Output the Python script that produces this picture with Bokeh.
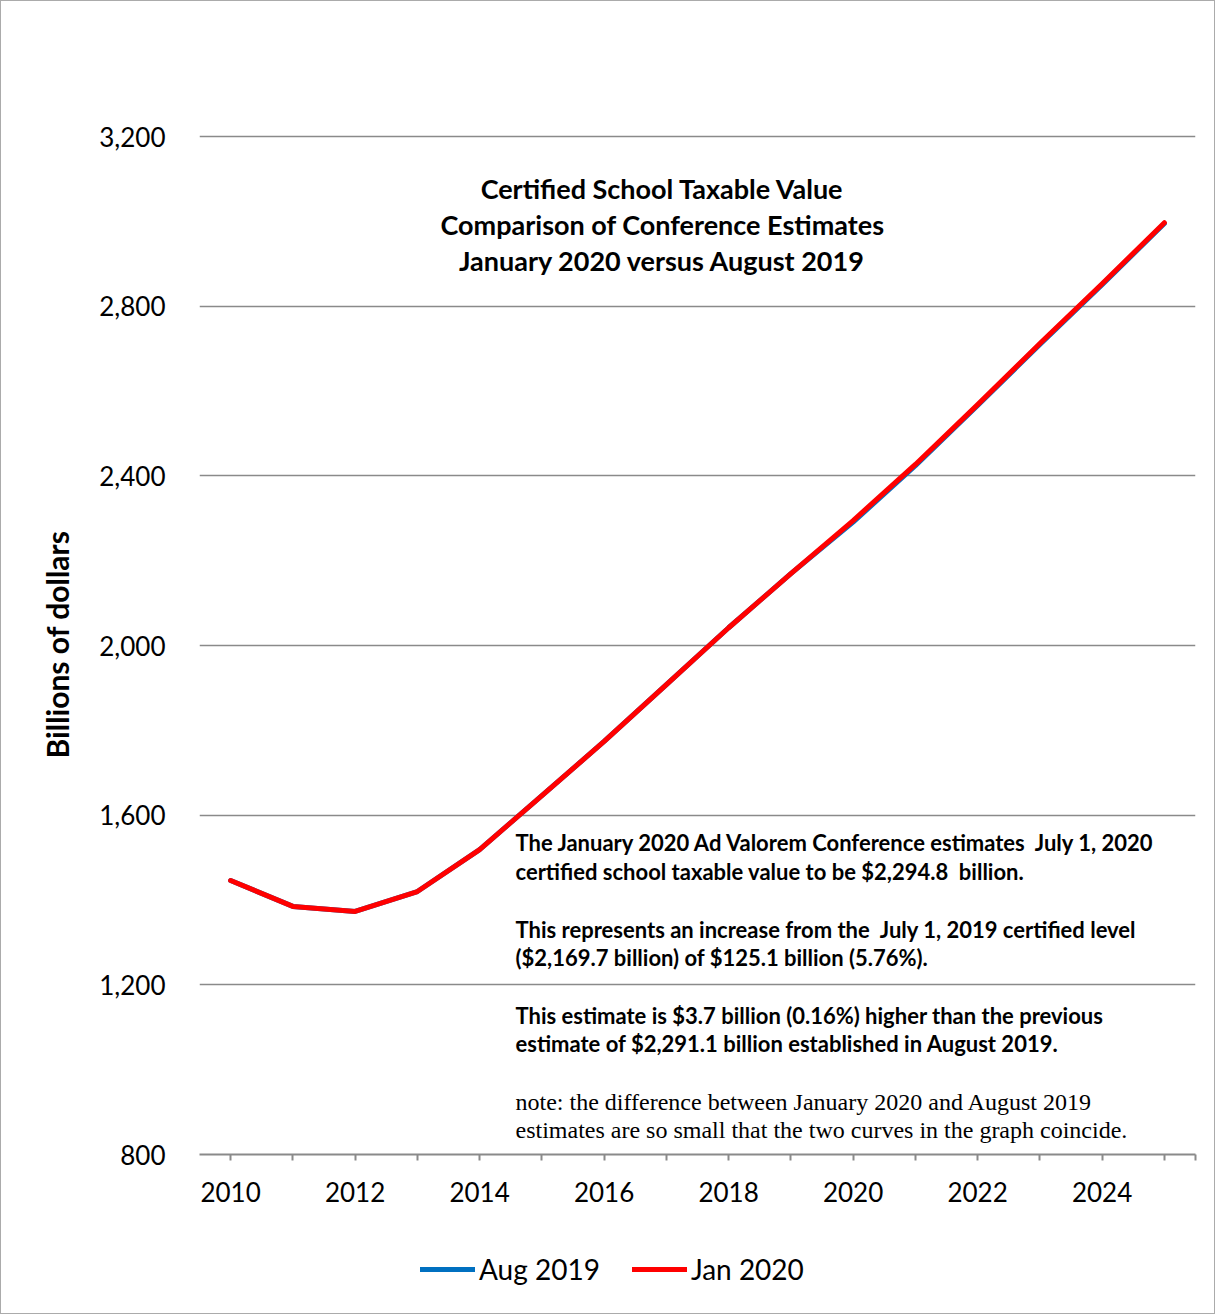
from bokeh.plotting import figure
from bokeh.layouts import column
from bokeh.models import (FixedTicker, NumeralTickFormatter, Label, Legend, LegendItem, Range1d)
from bokeh.embed import file_html
from bokeh.resources import INLINE

# ---- data ----
years = list(range(2010, 2026))
aug_2019 = [1446, 1385, 1373, 1420, 1519, 1646, 1774, 1908, 2042, 2169.7,
            2291.1, 2424, 2566, 2710, 2851, 2995]
jan_2020 = [1446, 1385, 1373, 1420, 1519, 1646, 1774, 1908, 2042, 2169.7,
            2294.8, 2427, 2568, 2712, 2853, 2997]
y_ticks = [800, 1200, 1600, 2000, 2400, 2800, 3200]
x_label_years = [2010, 2012, 2014, 2016, 2018, 2020, 2022, 2024]

title_lines = ["Certified School Taxable Value",
               "Comparison of Conference Estimates",
               "January 2020 versus August 2019"]
note_bold = ["The January 2020 Ad Valorem Conference estimates\u00a0 July 1, 2020",
             "certified school taxable value to be $2,294.8\u00a0 billion.",
             "This represents an increase from the\u00a0 July 1, 2019 certified level",
             "($2,169.7 billion) of $125.1 billion (5.76%).",
             "This estimate is $3.7 billion (0.16%) higher than the previous",
             "estimate of $2,291.1 billion established in August 2019."]
note_plain = ["note: the difference between January 2020 and August 2019",
              "estimates are so small that the two curves in the graph coincide."]

FONT = "Lato"
W = 1213
H_MAIN, H_LEG = 1230, 82
FL, FR, FB = 198, 1194, 1153   # frame edges in canvas px
X0, X1 = 2009.5, 2025.5
Y0, Y1 = 800, 3205
PX_PER_UNIT = 1018 / 2400
FT = FB - round((Y1 - Y0) * PX_PER_UNIT)

p = figure(width=W, height=H_MAIN, output_backend="svg", toolbar_location=None,
           x_range=Range1d(X0, X1), y_range=Range1d(Y0, Y1),
           min_border_left=FL, min_border_right=W - FR,
           min_border_top=FT, min_border_bottom=H_MAIN - FB)
p.outline_line_color = None
p.background_fill_color = "white"
p.border_fill_color = "white"

def dx(px):
    return X0 + (px - FL) / (FR - FL) * (X1 - X0)

def dy(py):
    return Y0 + (FB - py) / (FB - FT) * (Y1 - Y0)

line_styles = dict(line_width=5, line_cap="round", line_join="round")
p.line(years, aug_2019, line_color="#0070C0", **line_styles)
p.line(years, jan_2020, line_color="#FF0000", **line_styles)

# axes
xa = p.xaxis[0]
ticks = years + [2025.5]
xa.ticker = FixedTicker(ticks=ticks)
xa.major_label_overrides = {t: (str(t) if t in x_label_years else "") for t in ticks}
xa.axis_line_color = "#8a8a8a"
xa.axis_line_width = 2
xa.major_tick_line_color = "#8a8a8a"
xa.major_tick_line_width = 2
xa.major_tick_out = 6
xa.major_tick_in = 0
xa.minor_tick_line_color = None
xa.major_label_text_font = FONT
xa.major_label_text_font_size = "26px"
xa.major_label_text_color = "black"
xa.major_label_standoff = 21

ya = p.yaxis[0]
ya.ticker = FixedTicker(ticks=y_ticks)
ya.formatter = NumeralTickFormatter(format="0,0")
ya.axis_line_color = None
ya.major_tick_line_color = None
ya.minor_tick_line_color = None
ya.major_tick_out = 0
ya.major_tick_in = 0
ya.major_label_text_font = FONT
ya.major_label_text_font_size = "26px"
ya.major_label_text_color = "black"
ya.major_label_standoff = 34
ya.axis_label = "Billions of dollars"
ya.axis_label_text_font = FONT
ya.axis_label_text_font_style = "bold"
ya.axis_label_text_font_size = "30px"
ya.axis_label_text_color = "black"
ya.axis_label_standoff = 21

p.xgrid.grid_line_color = None
p.ygrid.grid_line_color = "#8a8a8a"
p.ygrid.grid_line_width = 1.5

# title block
for i, t in enumerate(title_lines):
    p.add_layout(Label(x=dx(661), y=dy(187 + 36 * i), text=t, text_align="center",
                       text_baseline="middle", text_font=FONT, text_font_style="bold",
                       text_font_size="27px", text_color="black"))

# note block
bold_y = [841, 870, 928, 956, 1014, 1042]
for t, yy in zip(note_bold, bold_y):
    p.add_layout(Label(x=dx(514), y=dy(yy), text=t, text_align="left",
                       text_baseline="middle", text_font=FONT, text_font_style="bold",
                       text_font_size="22px", text_color="black"))
for t, yy in zip(note_plain, [1100, 1128]):
    p.add_layout(Label(x=dx(514), y=dy(yy), text=t, text_align="left",
                       text_baseline="middle", text_font="Liberation Serif",
                       text_font_size="24px", text_color="black"))

# legend strip (its own small figure; series drawn outside its view so only the key shows)
pl = figure(width=W, height=H_LEG, output_backend="svg", toolbar_location=None,
            x_range=Range1d(0, 1), y_range=Range1d(0, 1),
            x_axis_location=None, y_axis_location=None,
            min_border=0, min_border_left=0, min_border_right=0,
            min_border_top=0, min_border_bottom=0)
pl.outline_line_color = None
pl.xgrid.grid_line_color = None
pl.ygrid.grid_line_color = None
pl.border_fill_color = "white"
l_aug = pl.line(years, aug_2019, line_color="#0070C0", **line_styles)
l_jan = pl.line(years, jan_2020, line_color="#FF0000", **line_styles)

legend = Legend(items=[LegendItem(label="Aug 2019", renderers=[l_aug]),
                       LegendItem(label="Jan 2020", renderers=[l_jan])],
                orientation="horizontal", location=(420 - 1 - FL, H_LEG - (1270 - H_MAIN) - 15),
                glyph_width=55, glyph_height=30, label_height=30,
                label_standoff=4, spacing=32, padding=0, margin=0,
                border_line_color=None, background_fill_alpha=0,
                label_text_font=FONT, label_text_font_size="28px",
                label_text_color="black")
pl.add_layout(legend)

layout = column(p, pl, spacing=0)
layout.styles = {"border": "1px solid #ababab"}

open("out.html", "w").write(file_html(layout, INLINE))
